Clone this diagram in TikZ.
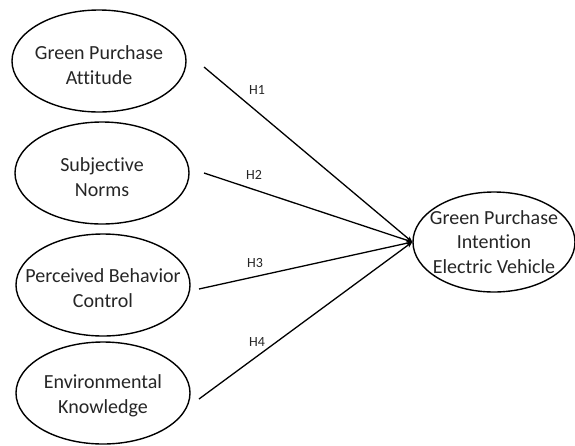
\documentclass[tikz,border=0pt]{standalone}
\usepackage{fontspec}
\setmainfont{Carlito}[Ligatures=NoCommon]
\usetikzlibrary{shapes.geometric,arrows.meta}
\begin{document}
\begin{tikzpicture}[x=1pt,y=-1pt,
  construct/.style={draw=black,line width=1.4pt,ellipse,inner sep=0pt,
    minimum width=#1,minimum height=102pt},
  construct/.default=174pt,
  ctext/.style={align=center,inner sep=0pt,
    font=\fontsize{20pt}{24.5pt}\selectfont,text=black!85},
  path/.style={line width=1.3pt,-{Stealth[length=6pt,width=5pt]}},
  hlabel/.style={font=\fontsize{14pt}{15pt}\selectfont,text=black!85,inner sep=0pt}]
\useasboundingbox (0,0) rectangle (575,445);
\fill[white] (0,0) rectangle (575,445);
\node[construct] (gpa) at (99,61) {};
\node[ctext] (gpat) at ([yshift=-4pt]gpa.center) {Green Purchase\\Attitude};
\node[construct] (sn) at (102,173) {};
\node[ctext] (snt) at ([yshift=-4pt]sn.center) {Subjective\\Norms};
\node[construct] (pbc) at (103,285) {};
\node[ctext] (pbct) at ([yshift=-3pt]pbc.center) {Perceived Behavior\\Control};
\node[construct] (ek) at (103,393) {};
\node[ctext] (ekt) at ([yshift=-3pt]ek.center) {Environmental\\Knowledge};
\node[construct=162pt,minimum height=100pt] (gpi) at (494,242) {};
\node[ctext] (gpit) at (gpi) {Green Purchase\\Intention\\Electric Vehicle};
\coordinate (s1) at (204,67);
\coordinate (s2) at (204,173);
\coordinate (s3) at (199,289);
\coordinate (s4) at (199,399);
\draw[path] (s1) -- (gpi.west);
\draw[path] (s2) -- (gpi.west);
\draw[path] (s3) -- (gpi.west);
\draw[path] (s4) -- (gpi.west);
\node[hlabel] (h1) at (257,90) {H1};
\node[hlabel] (h2) at (254,175) {H2};
\node[hlabel] (h3) at (255,263) {H3};
\node[hlabel] (h4) at (257,342) {H4};
\end{tikzpicture}
\end{document}
